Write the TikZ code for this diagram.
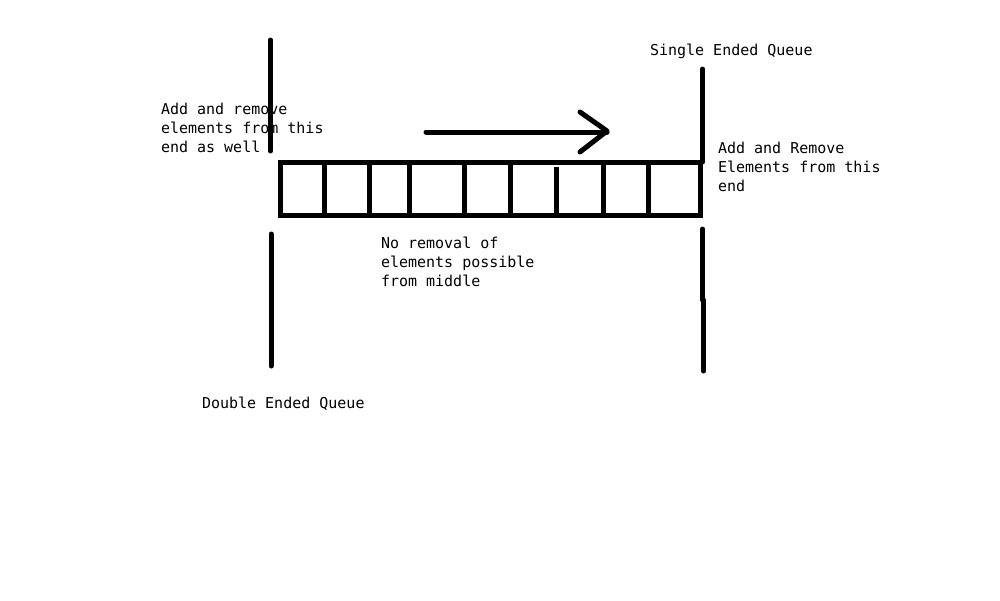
\documentclass[tikz,border=0pt]{standalone}
\usepackage{fontspec}
\newfontfamily\monofont{DejaVu Sans Mono}
\begin{document}
\begin{tikzpicture}[x=1pt,y=-1pt,
  pen/.style={line width=5pt,line cap=round,line join=round,black},
  lbl/.style={anchor=base west,inner sep=0pt,outer sep=0pt,align=left,
    font=\monofont\fontsize{15}{19}\selectfont}]
\useasboundingbox[fill=white] (0,0) rectangle (1000,600);
% queue box
\draw[pen,line cap=butt,line join=miter] (280,162.5) rectangle (700.5,215.5);
\foreach \x in {324.5,369.5,409.5,464.5,510.5,603.5,648.5}
  \draw[pen,line cap=butt] (\x,162.5) -- (\x,216.5);
\draw[pen,line cap=butt] (556.5,167) -- (556.5,216.5);
% arrow
\draw[pen] (426,132) -- (607,132);
\draw[pen] (580,112) -- (607,131) -- (580,152);
% ends
\draw[pen] (270.5,40) -- (270.5,151);
\draw[pen] (271,234) -- (271,366);
\draw[pen] (702.5,69) -- (702.5,162);
\draw[pen] (702.5,229) -- (702.5,300);
\draw[pen] (703.5,300) -- (703.5,371);
% labels (base anchor of multi-line nodes = last line's baseline)
\node[lbl] (single) at (650,55) {Single Ended Queue};
\node[lbl] (leftend) at (161,152) {Add and remove\\elements from this\\end as well};
\node[lbl] (rightend) at (718,191) {Add and Remove\\Elements from this\\end};
\node[lbl] (middle) at (381,286) {No removal of\\elements possible\\from middle};
\node[lbl] (double) at (202,408) {Double Ended Queue};
\end{tikzpicture}
\end{document}
